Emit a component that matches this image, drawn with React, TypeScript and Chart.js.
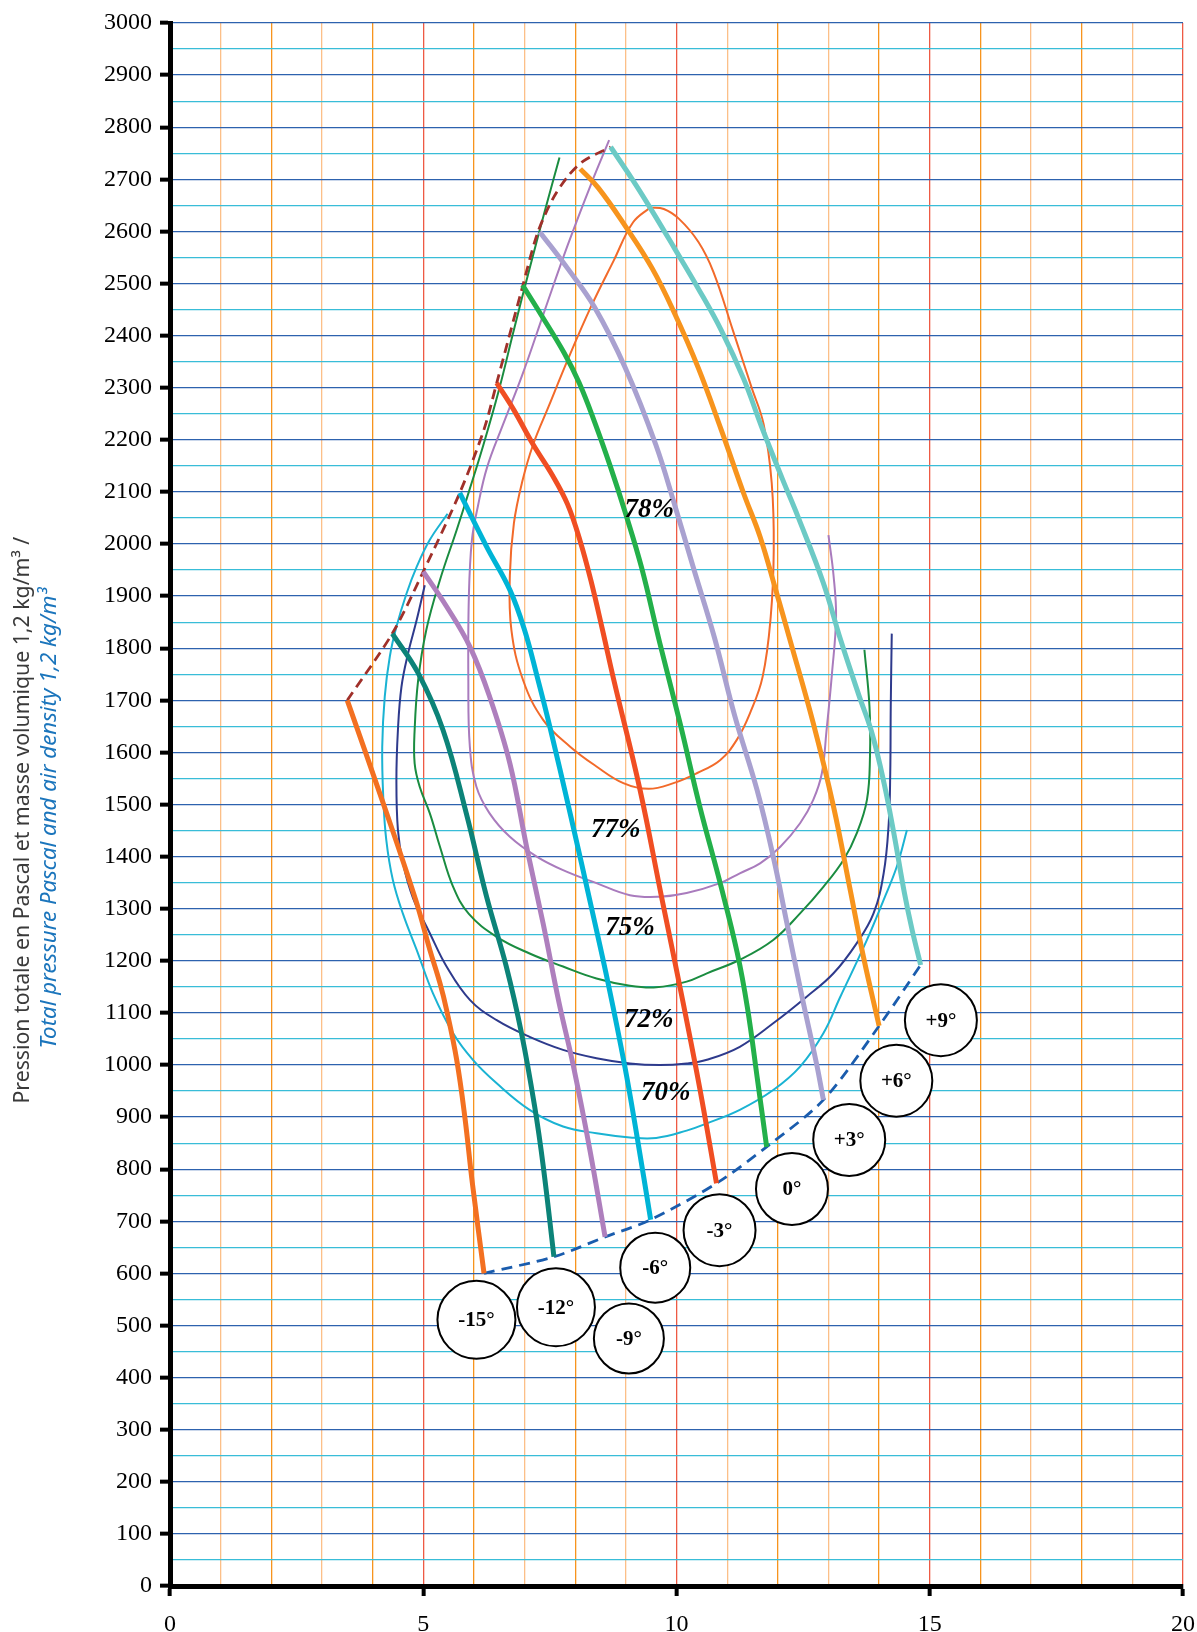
import React, { useEffect, useRef } from 'react';
import { Chart, registerables } from 'chart.js';

Chart.register(...registerables);

type P = [number, number];

// ---- Axis ticks ----
const xMin = 0;
const xMax = 20;
const yMin = 0;
const yMax = 3000;
const xLabelStep = 5;
const yLabelStep = 100;

// ---- Blade angle curves (thick) ----
const bladeM15: P[] = [[3.5, 1700], [4.2, 1505], [4.85, 1317], [5.13, 1221], [5.33, 1157], [5.46, 1106], [5.66, 1010], [5.82, 901], [5.97, 773], [6.2, 600]];
const bladeM12: P[] = [[4.39, 1828], [4.9, 1752], [5.39, 1643], [5.85, 1483], [6.25, 1323], [6.64, 1189], [6.94, 1061], [7.2, 920], [7.37, 805], [7.58, 632]];
const bladeM9: P[] = [[5.0, 1947], [5.46, 1880], [5.92, 1803], [6.31, 1707], [6.71, 1579], [7.04, 1419], [7.37, 1270], [7.68, 1120], [7.96, 1000], [8.29, 837], [8.59, 670]];
const bladeM6: P[] = [[5.72, 2098], [6.25, 1995], [6.71, 1912], [7.0, 1835], [7.25, 1745], [7.5, 1649], [7.9, 1483], [8.36, 1285], [8.65, 1157], [8.98, 997], [9.21, 869], [9.49, 703]];
const bladeM3: P[] = [[6.45, 2309], [6.79, 2257], [7.17, 2191], [7.55, 2132], [7.85, 2076], [8.1, 2005], [8.31, 1930], [8.53, 1839], [8.76, 1740], [9.28, 1528], [9.7, 1325], [10.13, 1120], [10.46, 955], [10.79, 773]];
const blade0: P[] = [[6.96, 2497], [7.32, 2441], [7.78, 2367], [8.08, 2309], [8.38, 2235], [8.69, 2150], [8.99, 2060], [9.31, 1955], [9.67, 1810], [10.07, 1656], [10.46, 1496], [10.86, 1350], [11.2, 1215], [11.4, 1110], [11.6, 971], [11.78, 843]];
const bladeP3: P[] = [[7.3, 2599], [7.85, 2529], [8.38, 2455], [8.99, 2338], [9.59, 2191], [9.97, 2073], [10.35, 1949], [10.75, 1820], [11.15, 1670], [11.59, 1528], [11.91, 1400], [12.18, 1272], [12.47, 1135], [12.77, 1000], [12.9, 933]];
const bladeP6: P[] = [[8.1, 2720], [8.46, 2683], [8.99, 2610], [9.52, 2529], [9.97, 2441], [10.43, 2338], [10.88, 2220], [11.33, 2096], [11.65, 2014], [11.95, 1915], [12.24, 1816], [12.7, 1656], [13.1, 1496], [13.43, 1336], [13.69, 1208], [14.0, 1075]];
const bladeP9: P[] = [[8.7, 2762], [9.14, 2698], [9.52, 2639], [9.97, 2566], [10.42, 2492], [10.88, 2411], [11.33, 2316], [11.68, 2225], [12.09, 2125], [12.4, 2052], [12.9, 1925], [13.24, 1816], [13.6, 1710], [13.85, 1640], [14.1, 1540], [14.3, 1440], [14.5, 1330], [14.65, 1260], [14.82, 1192]];

// ---- Limit lines (dashed) ----
const surgeLine: P[] = [[3.5, 1700], [4.4, 1830], [5.0, 1947], [5.72, 2098], [6.2, 2220], [6.45, 2309], [6.95, 2490], [7.25, 2595], [7.55, 2661], [7.85, 2705], [8.16, 2735], [8.7, 2762]];
const endLine: P[] = [[6.2, 600], [7.58, 632], [8.59, 670], [9.49, 703], [10.79, 773], [11.78, 843], [12.9, 933], [14.0, 1075], [14.82, 1192]];

// ---- Efficiency curves (thin) ----
const eff78: P[] = [[9.48, 2646], [9.14, 2617], [8.76, 2544], [8.31, 2455], [7.85, 2353], [7.48, 2265], [7.17, 2191], [6.95, 2118], [6.79, 2040], [6.71, 1940], [6.74, 1835], [6.97, 1739], [7.37, 1662], [7.9, 1611], [8.42, 1573], [8.95, 1541], [9.45, 1530], [9.94, 1541], [10.4, 1560], [10.86, 1585], [11.19, 1624], [11.45, 1675], [11.7, 1745], [11.86, 1860], [11.92, 1990], [11.88, 2117], [11.72, 2230], [11.48, 2301], [11.11, 2411], [10.73, 2522], [10.43, 2580], [10.05, 2624], [9.75, 2643], [9.48, 2646]];
const eff77: P[] = [[8.67, 2775], [8.31, 2690], [7.85, 2573], [7.4, 2449], [6.95, 2323], [6.57, 2228], [6.26, 2147], [6.08, 2073], [5.96, 2007], [5.9, 1897], [5.89, 1739], [5.92, 1611], [6.05, 1534], [6.31, 1483], [6.71, 1438], [7.24, 1400], [7.76, 1374], [8.42, 1349], [9.08, 1326], [9.67, 1323], [10.2, 1330], [10.86, 1349], [11.25, 1368], [11.65, 1387], [12.05, 1419], [12.44, 1464], [12.7, 1509], [12.87, 1560], [12.96, 1640], [13.07, 1752], [13.15, 1860], [13.1, 1940], [13.0, 2017]];
const eff75: P[] = [[7.69, 2742], [7.4, 2639], [7.1, 2529], [6.79, 2411], [6.49, 2294], [6.19, 2191], [5.9, 2100], [5.66, 2027], [5.33, 1931], [5.06, 1835], [4.9, 1739], [4.83, 1643], [4.83, 1579], [4.93, 1534], [5.13, 1483], [5.33, 1419], [5.59, 1342], [5.9, 1290], [6.45, 1246], [7.1, 1214], [7.76, 1189], [8.42, 1166], [9.08, 1152], [9.6, 1149], [10.2, 1160], [10.6, 1176], [11.25, 1202], [11.91, 1240], [12.44, 1291], [12.9, 1342], [13.3, 1394], [13.56, 1445], [13.76, 1509], [13.82, 1592], [13.81, 1688], [13.71, 1797]];
const eff72: P[] = [[5.03, 1921], [4.87, 1854], [4.7, 1790], [4.57, 1726], [4.5, 1643], [4.47, 1547], [4.5, 1451], [4.6, 1387], [4.8, 1320], [5.13, 1253], [5.46, 1189], [5.92, 1125], [6.45, 1086], [7.1, 1054], [7.76, 1029], [8.42, 1013], [9.08, 1003], [9.67, 1000], [10.2, 1003], [10.6, 1010], [11.25, 1035], [11.91, 1080], [12.57, 1131], [13.1, 1176], [13.56, 1234], [13.89, 1291], [14.09, 1368], [14.19, 1464], [14.22, 1560], [14.23, 1688], [14.25, 1828]];
const eff70: P[] = [[5.48, 2058], [5.13, 2008], [4.87, 1956], [4.67, 1905], [4.47, 1841], [4.34, 1784], [4.24, 1707], [4.19, 1611], [4.21, 1515], [4.27, 1432], [4.4, 1355], [4.6, 1290], [4.87, 1221], [5.19, 1138], [5.59, 1061], [5.98, 1010], [6.45, 965], [7.1, 914], [7.76, 882], [8.42, 869], [9.08, 861], [9.6, 860], [10.2, 874], [10.6, 888], [11.25, 914], [11.91, 952], [12.44, 997], [12.9, 1061], [13.23, 1130], [13.76, 1240], [14.09, 1317], [14.35, 1381], [14.55, 1451]];

// ---- Annotations ----
const angleLabels = ['-15°', '-12°', '-9°', '-6°', '-3°', '0°', '+3°', '+6°', '+9°'];
const angleX = [6.05, 7.62, 9.06, 9.58, 10.85, 12.28, 13.41, 14.34, 15.22];
const angleY = [511, 535, 475, 611, 683, 762, 856, 970, 1086];

const effLabels = ['78%', '77%', '75%', '72%', '70%'];
const effX = [9.46, 8.8, 9.08, 9.45, 9.79];
const effY = [2065, 1451, 1262, 1086, 946];

const titleFr = 'Pression totale en Pascal et masse volumique 1,2 kg/m³ /';
const titleEn = 'Total pressure Pascal and air density 1,2 kg/m³';
const titleCenterValue = 1470;

// ---- Styles ----
const circleRadius = [39, 39, 35, 35, 36, 36, 36, 36, 36];

const toXY = (arr: P[]) => arr.map(([x, y]) => ({ x, y }));

const thick = (label: string, data: P[], color: string) => ({
  type: 'scatter' as const,
  label,
  data: toXY(data),
  showLine: true,
  borderColor: color,
  backgroundColor: color,
  borderWidth: 5,
  pointRadius: 0,
  pointHoverRadius: 0,
  tension: 0.4,
  borderCapStyle: 'butt' as const,
});

const thin = (label: string, data: P[], color: string) => ({
  type: 'scatter' as const,
  label,
  data: toXY(data),
  showLine: true,
  borderColor: color,
  backgroundColor: color,
  borderWidth: 2,
  pointRadius: 0,
  pointHoverRadius: 0,
  tension: 0.4,
});

const serif = '"Liberation Serif", "Times New Roman", serif';

const annotationPlugin = {
  id: 'annotations',
  afterDatasetsDraw(chart: any) {
    const ctx = chart.ctx as CanvasRenderingContext2D;
    const xs = chart.scales.x;
    const ys = chart.scales.y;
    ctx.save();
    ctx.fillStyle = '#000';
    ctx.textAlign = 'center';
    ctx.textBaseline = 'middle';
    ctx.font = `bold 21px ${serif}`;
    angleLabels.forEach((t, i) => {
      ctx.fillText(t, xs.getPixelForValue(angleX[i]), ys.getPixelForValue(angleY[i]) + 1);
    });
    ctx.font = `italic bold 27px ${serif}`;
    effLabels.forEach((t, i) => {
      ctx.fillText(t, xs.getPixelForValue(effX[i]), ys.getPixelForValue(effY[i]));
    });
    ctx.restore();
  },
  afterDraw(chart: any) {
    const ctx = chart.ctx as CanvasRenderingContext2D;
    const ys = chart.scales.y;
    const cy = ys.getPixelForValue(titleCenterValue);
    ctx.save();
    ctx.translate(0, cy);
    ctx.rotate(-Math.PI / 2);
    ctx.textAlign = 'center';
    ctx.textBaseline = 'alphabetic';
    ctx.font = '19px "Noto Sans", sans-serif';
    let w = ctx.measureText(titleFr).width;
    let size = 19 * 567 / w;
    ctx.font = `${size.toFixed(2)}px "Noto Sans", sans-serif`;
    ctx.fillStyle = '#3a3a3a';
    ctx.fillText(titleFr, 0, 29);
    ctx.font = 'italic 19px "Noto Sans", sans-serif';
    w = ctx.measureText(titleEn).width;
    size = 19 * 461 / w;
    ctx.font = `italic ${size.toFixed(2)}px "Noto Sans", sans-serif`;
    ctx.fillStyle = '#1b75bc';
    ctx.fillText(titleEn, 2, 56);
    ctx.restore();
  },
};

const zeroPadding = (s: any) => {
  s.paddingLeft = 0;
  s.paddingRight = 0;
  s.paddingTop = 0;
  s.paddingBottom = 0;
};

export default function App() {
  const ref = useRef<HTMLCanvasElement | null>(null);

  useEffect(() => {
    if (!ref.current) return;
    const chart = new Chart(ref.current, {
      type: 'scatter',
      data: {
        datasets: [
          {
            type: 'scatter',
            label: 'angles',
            data: angleX.map((x, i) => ({ x, y: angleY[i] })),
            pointRadius: circleRadius,
            pointHoverRadius: circleRadius,
            pointBackgroundColor: '#ffffff',
            pointBorderColor: '#000000',
            pointBorderWidth: 2,
            showLine: false,
          } as any,
          thick('-15°', bladeM15, '#f37021'),
          thick('-12°', bladeM12, '#0c8378'),
          thick('-9°', bladeM9, '#ae7fbd'),
          thick('-6°', bladeM6, '#00b4d6'),
          thick('-3°', bladeM3, '#f04e23'),
          thick('0°', blade0, '#23b04a'),
          thick('+3°', bladeP3, '#a9a1d0'),
          thick('+6°', bladeP6, '#f7941d'),
          thick('+9°', bladeP9, '#6ccac5'),
          {
            ...thin('surge', surgeLine, '#a0302a'),
            borderWidth: 2.8,
            borderDash: [10, 6],
            tension: 0.3,
          } as any,
          {
            ...thin('end', endLine, '#1a5cad'),
            borderWidth: 2.8,
            borderDash: [11, 7],
            tension: 0.3,
          } as any,
          thin('78%', eff78, '#f26a2a'),
          thin('77%', eff77, '#a97bbd'),
          thin('75%', eff75, '#1a8c40'),
          thin('72%', eff72, '#2e3a8c'),
          thin('70%', eff70, '#1ab3d3'),
        ],
      },
      options: {
        animation: false,
        responsive: false,
        devicePixelRatio: 1,
        events: [],
        layout: { autoPadding: false, padding: { left: 0, top: 23, right: 14, bottom: 0 } },
        plugins: {
          legend: { display: false },
          tooltip: { enabled: false },
          title: { display: false },
        },
        scales: {
          x: {
            type: 'linear',
            min: xMin,
            max: xMax,
            ticks: {
              stepSize: 1,
              autoSkip: false,
              maxRotation: 0,
              padding: 14,
              color: '#000',
              font: { family: serif, size: 24 },
              callback: (v: any) => (Number(v) % xLabelStep === 0 ? String(v) : ''),
            },
            grid: {
              color: (c: any) => {
                const v = c.tick?.value ?? 0;
                if (v % 5 === 0) return '#ee5a44';
                return v % 2 === 1 ? '#fcbf88' : '#f7941d';
              },
              lineWidth: 1.3,
              drawTicks: true,
              tickLength: 10,
              tickWidth: 4,
              tickColor: (c: any) => ((c.tick?.value ?? 0) % xLabelStep === 0 ? '#000' : 'rgba(0,0,0,0)'),
            },
            border: { display: true, color: '#000', width: 5 },
            afterFit: (s: any) => {
              s.height = 46;
              zeroPadding(s);
            },
          },
          y: {
            type: 'linear',
            min: yMin,
            max: yMax,
            ticks: {
              stepSize: 50,
              autoSkip: false,
              padding: 8,
              color: '#000',
              font: { family: serif, size: 24 },
              callback: (v: any) => (Number(v) % yLabelStep === 0 ? String(v) : ''),
            },
            grid: {
              color: (c: any) => ((c.tick?.value ?? 0) % 100 === 0 ? '#2d62ae' : '#38bdd8'),
              lineWidth: 1.3,
              drawTicks: true,
              tickLength: 10,
              tickWidth: 4,
              tickColor: (c: any) => ((c.tick?.value ?? 0) % yLabelStep === 0 ? '#000' : 'rgba(0,0,0,0)'),
            },
            border: { display: true, color: '#000', width: 5 },
            afterFit: (s: any) => {
              s.width = 170;
              zeroPadding(s);
            },
          },
        },
      } as any,
      plugins: [annotationPlugin],
    });
    return () => chart.destroy();
  }, []);

  return (
    <div style={{ position: 'absolute', left: 0, top: 0, width: 1197, height: 1632, background: '#fff' }}>
      <canvas ref={ref} width={1197} height={1632} style={{ width: 1197, height: 1632, display: 'block' }} />
    </div>
  );
}
